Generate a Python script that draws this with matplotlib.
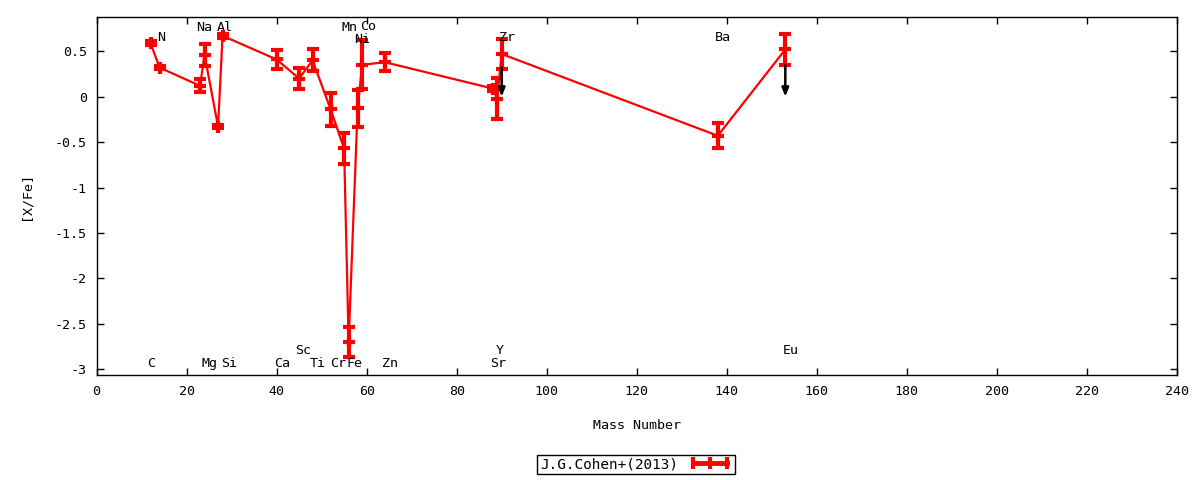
import matplotlib
matplotlib.use("Agg")
import matplotlib.pyplot as plt
from matplotlib.lines import Line2D

plt.rcParams['font.family'] = ['DejaVu Sans Mono', 'DejaVu Sans']

# ---- data ----
mass = [12, 14, 23, 24, 27, 28, 40, 45, 48, 52, 55, 56, 58, 59, 64, 88, 89, 90, 138, 153]
xfe = [0.59, 0.32, 0.12, 0.46, -0.33, 0.67, 0.41, 0.20, 0.40, -0.14, -0.57, -2.70,
       -0.13, 0.35, 0.38, 0.09, -0.02, 0.47, -0.43, 0.52]
xfe_err = [0.02, 0.02, 0.07, 0.12, 0.02, 0.02, 0.10, 0.12, 0.12, 0.18, 0.17, 0.16,
           0.20, 0.27, 0.10, 0.03, 0.23, 0.16, 0.14, 0.17]

limit_mass = [90, 153]
limit_from = [0.32, 0.35]
limit_to = [0.0, 0.0]

label_names = ['N', 'Na', 'Al', 'Mn', 'Co', 'Ni', 'Zr', 'Ba',
               'C', 'Mg', 'Si', 'Ca', 'Sc', 'Ti', 'Cr', 'Fe', 'Zn', 'Y', 'Sr', 'Eu']
label_x = [14.4, 24.0, 28.4, 56.2, 60.3, 59.1, 91.1, 139.1,
           12.2, 25.1, 29.5, 41.3, 46.0, 49.1, 53.6, 57.3, 65.3, 89.6, 89.1, 154.2]
label_y = [0.65, 0.76, 0.76, 0.76, 0.775, 0.63, 0.65, 0.65,
           -2.94, -2.94, -2.94, -2.94, -2.79, -2.94, -2.94, -2.94, -2.94, -2.79, -2.94, -2.79]

xticks = [0, 20, 40, 60, 80, 100, 120, 140, 160, 180, 200, 220, 240]
yticks = [0.5, 0, -0.5, -1, -1.5, -2, -2.5, -3]
ytick_labels = ['0.5', '0', '-0.5', '-1', '-1.5', '-2', '-2.5', '-3']

series_label = 'J.G.Cohen+(2013)'

FS = 9.6

# ---- figure ----
fig = plt.figure(figsize=(12, 4.8), dpi=100)
ax = fig.add_axes([96.5 / 1200, 1 - 375 / 480, (1177 - 96.5) / 1200, (375 - 17) / 480])

ax.errorbar(mass, xfe, yerr=xfe_err, color='#ff0000', lw=1.6, elinewidth=3,
            capsize=4, capthick=3, marker='+', markersize=8, mew=3, zorder=3)

for xm, y0, y1 in zip(limit_mass, limit_from, limit_to):
    ax.annotate('', xy=(xm, y1), xytext=(xm, y0),
                arrowprops=dict(arrowstyle='-|>,head_length=0.5,head_width=0.2',
                                color='black', lw=1.8, shrinkA=0, shrinkB=0),
                zorder=4)

for name, lx, ly in zip(label_names, label_x, label_y):
    ax.text(lx, ly, name, ha='center', va='center', fontsize=FS, color='black')

ax.set_xlim(0, 240)
ax.set_ylim(-3.063, 0.877)
ax.set_xticks(xticks)
ax.set_xticklabels([str(t) for t in xticks])
ax.set_yticks(yticks)
ax.set_yticklabels(ytick_labels)
ax.tick_params(direction='in', top=True, right=True, length=5, width=1,
               labelsize=FS, pad=7)
for sp in ax.spines.values():
    sp.set_linewidth(1)

ax.set_xlabel('Mass Number', fontsize=FS, labelpad=15)
ax.set_ylabel('[X/Fe]', fontsize=FS, labelpad=16)

proxy = Line2D([], [], color='#ff0000', lw=3.5, marker='|', markersize=9, mew=3)
leg = fig.legend(handles=[proxy], labels=[series_label], loc='center',
                 bbox_to_anchor=(636 / 1200, 1 - 464.5 / 480), markerfirst=False,
                 numpoints=3, fancybox=False, framealpha=1, edgecolor='black',
                 fontsize=10.4, handlelength=3.0, borderpad=0.2, handletextpad=0.7,
                 borderaxespad=0)
leg.get_frame().set_linewidth(1)

fig.savefig('out.png', dpi=100)
